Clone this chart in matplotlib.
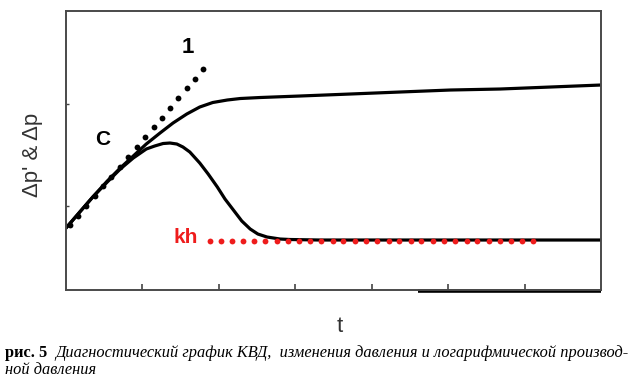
import matplotlib

matplotlib.use("Agg")
import matplotlib.pyplot as plt

plt.rcParams.update(
    {
        "font.family": ["Liberation Sans", "DejaVu Sans"],
        "xtick.direction": "in",
        "ytick.direction": "in",
    }
)

# ── Data (arbitrary units) ───────────────────────────────────────────────────
# pressure change curve, Δp
dp_t = [0.00, 0.18, 0.35, 0.54, 0.71, 0.88, 1.05, 1.23, 1.40, 1.58, 1.75,
        1.92, 2.11, 2.28, 2.54, 3.06, 3.72, 4.37, 5.03, 5.68, 6.34, 7.00]
dp_v = [0.62, 0.78, 0.93, 1.09, 1.22, 1.34, 1.46, 1.57, 1.67, 1.76, 1.83,
        1.875, 1.90, 1.915, 1.925, 1.94, 1.96, 1.98, 2.00, 2.01, 2.03, 2.05]

# log derivative, Δp'
der_t = [0.00, 0.18, 0.35, 0.54, 0.71, 0.88, 1.05, 1.16, 1.27, 1.36, 1.45,
         1.53, 1.62, 1.75, 1.86, 1.98, 2.08, 2.19, 2.30, 2.41, 2.51, 2.63,
         2.80, 2.93, 3.32, 4.37, 5.68, 7.00]
der_v = [0.62, 0.78, 0.93, 1.08, 1.21, 1.32, 1.41, 1.44, 1.465, 1.47, 1.46,
         1.43, 1.38, 1.27, 1.16, 1.03, 0.91, 0.80, 0.69, 0.61, 0.56, 0.53,
         0.51, 0.505, 0.50, 0.50, 0.50, 0.50]

# unit-slope (wellbore storage) dots, "1"
slope_t = [0.05, 0.16, 0.26, 0.38, 0.48, 0.59, 0.71, 0.81, 0.93, 1.03, 1.15,
           1.26, 1.36, 1.47, 1.58, 1.69, 1.79]
slope_v = [0.65, 0.74, 0.84, 0.94, 1.04, 1.13, 1.23, 1.33, 1.43, 1.53, 1.63,
           1.72, 1.82, 1.92, 2.02, 2.11, 2.21]

# radial flow stabilisation (kh) dots
kh_t = [1.88, 2.03, 2.17, 2.32, 2.46, 2.61, 2.76, 2.90, 3.05, 3.19, 3.34,
        3.49, 3.63, 3.78, 3.92, 4.07, 4.22, 4.36, 4.51, 4.65, 4.80, 4.95,
        5.09, 5.24, 5.38, 5.53, 5.68, 5.82, 5.97, 6.11]
KH_LEVEL = 0.49

x_ticks = [1, 2, 3, 4, 5, 6]
y_ticks = [0.84, 1.86]
X_MAX, Y_MAX = 7.0, 2.79
BAR_START = 4.61  # thick stroke under the right part of the x axis

RED = "#ee1c1c"
SERIF = "Liberation Serif"

# ── Figure ───────────────────────────────────────────────────────────────────
fig = plt.figure(figsize=(6.31, 3.81), dpi=100)
ax = fig.add_axes([0.1046, 0.2388, 0.8479, 0.7323])

ax.plot(dp_t, dp_v, color="black", lw=2.3, solid_capstyle="round",
        solid_joinstyle="round")
ax.plot(der_t, der_v, color="black", lw=2.3, solid_capstyle="round",
        solid_joinstyle="round")
ax.plot(slope_t, slope_v, "o", color="black", ms=4.2, mew=0)
ax.plot(kh_t, [KH_LEVEL] * len(kh_t), "o", color=RED, ms=4.2, mew=0)
ax.plot([BAR_START, X_MAX], [-0.012, -0.012], color="black", lw=2.6,
        clip_on=False, solid_capstyle="butt")

ax.text(1.60, 2.43, "1", fontsize=16, fontweight="bold", ha="center",
        va="center")
ax.text(0.48, 1.51, "C", fontsize=15, fontweight="bold", ha="center",
        va="center")
ax.text(1.56, 0.53, "kh", fontsize=15, fontweight="bold", color=RED,
        ha="center", va="center")

ax.set_xlim(0, X_MAX)
ax.set_ylim(0, Y_MAX)
ax.set_xticks(x_ticks)
ax.set_yticks(y_ticks)
ax.set_xticklabels([])
ax.set_yticklabels([])
ax.tick_params(axis="x", length=4, width=1.2, color="#444444")
ax.tick_params(axis="y", length=2.5, width=1.0, color="#444444")
for s in ax.spines.values():
    s.set_color("#4a4a4a")
    s.set_linewidth(1.4)

fig.text(0.052, 0.593, "Δp' & Δp", rotation=90, fontsize=16,
         color="#333333", ha="center", va="center")
fig.text(0.539, 0.142, "t", fontsize=16, color="#333333", ha="center",
         va="center")

# caption: bold "рис. 5" followed by italic text
cap_y1, cap_y2 = 0.073, 0.028
bold = fig.text(0.008, cap_y1, "рис. 5", family=SERIF,
                fontweight="bold", fontsize=11.8, va="center")
fig.canvas.draw()
bb = bold.get_window_extent().transformed(fig.transFigure.inverted())
fig.text(bb.x1 + 0.012, cap_y1,
         "Диагностический график КВД,  изменения давления и логарифмической производ-",
         family=SERIF, style="italic", fontsize=11.8, va="center")
fig.text(0.008, cap_y2, "ной давления", family=SERIF,
         style="italic", fontsize=11.8, va="center")

fig.savefig("out.png", dpi=100)
